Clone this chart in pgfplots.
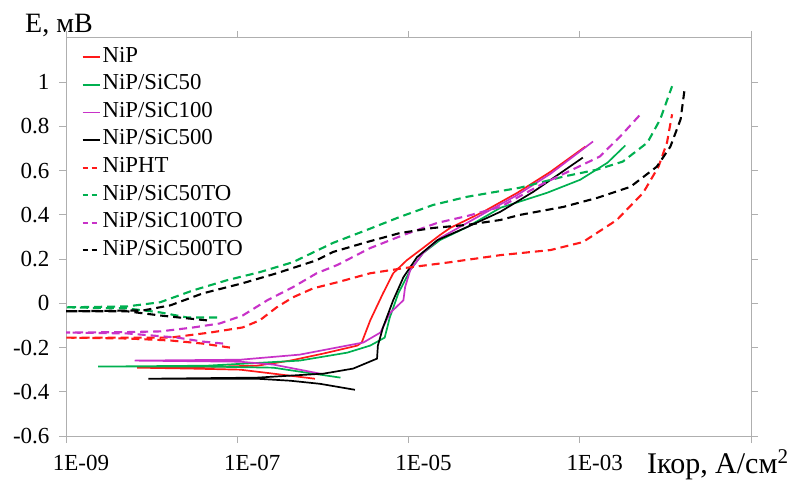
\documentclass[border=0pt]{standalone}
\usepackage{fontspec}
\setmainfont{Liberation Serif}
\usepackage{pgfplots}
\pgfplotsset{compat=1.18}
\definecolor{cred}{RGB}{255,25,25}
\definecolor{cgreen}{RGB}{0,176,80}
\definecolor{cmag}{RGB}{200,50,200}
\definecolor{axgray}{RGB}{175,175,175}
\begin{document}
\begin{tikzpicture}
\path[use as bounding box] (-66pt,-47pt) rectangle (726pt,436pt);
\begin{axis}[
  name=ax,
  at={(0,0)}, anchor=south west,
  scale only axis, width=685pt, height=398pt,
  xmin=-8.988, xmax=-0.932, ymin=-0.6, ymax=1.2,
  axis line style={draw=axgray, line width=1pt},
  tick align=outside, major tick length=7pt,
  tick style={draw=axgray, line width=1pt},
  xtick={-8.988,-6.974,-4.960,-2.946,-0.932},
  xticklabels={1E-09,1E-07,1E-05,1E-03,{}},
  ytick={-0.6,-0.4,-0.2,0,0.2,0.4,0.6,0.8,1},
  yticklabels={-0.6,-0.4,-0.2,0,0.2,0.4,0.6,0.8,1},
  ticklabel style={font=\fontsize{23}{27}\selectfont},
  xticklabel style={xshift=15pt, yshift=-9pt},
  yticklabel style={xshift=-6pt},
  legend style={draw=none, fill=none, at={(0.018,0.985)}, anchor=north west,
    font=\fontsize{22.8}{26}\selectfont, row sep=5.6pt,
    nodes={inner sep=1pt, text height=15pt, text depth=5pt},
    /tikz/every odd column/.append style={column sep=1pt}},
  legend cell align=left,
  legend image code/.code={\draw[#1] (0pt,0pt) -- (17pt,0pt);},
]
% NiP
\addplot[cred, line width=1.7pt] coordinates {
(-6.06,-0.341) (-6.55,-0.318) (-6.94,-0.300) (-7.53,-0.295) (-8.15,-0.291) (-7.53,-0.289) (-6.74,-0.282) (-6.35,-0.259) (-5.96,-0.227) (-5.56,-0.191) (-5.51,-0.177) (-5.41,-0.077) (-5.26,0.045) (-5.14,0.136) (-4.98,0.195) (-4.79,0.25) (-4.59,0.309) (-4.47,0.341) (-4.08,0.414) (-3.68,0.5) (-3.29,0.595) (-2.88,0.709)};
\addlegendentry{NiP}
% NiP/SiC50
\addplot[cgreen, line width=1.7pt] coordinates {
(-5.76,-0.336) (-6.15,-0.314) (-6.55,-0.291) (-7.33,-0.286) (-8.61,-0.286) (-7.33,-0.282) (-6.24,-0.259) (-5.68,-0.223) (-5.41,-0.191) (-5.24,-0.155) (-5.18,-0.064) (-5.08,0.045) (-4.94,0.15) (-4.79,0.227) (-4.59,0.286) (-4.27,0.345) (-3.88,0.432) (-3.33,0.5) (-2.94,0.559) (-2.62,0.636) (-2.41,0.714)};
\addlegendentry{NiP/SiC50}
% NiP/SiC100
\addplot[cmag, line width=1.7pt] coordinates {
(-6.0,-0.318) (-6.24,-0.3) (-6.55,-0.277) (-6.94,-0.264) (-8.18,-0.259) (-6.94,-0.255) (-6.24,-0.232) (-5.49,-0.177) (-5.29,-0.132) (-5.18,-0.045) (-5.02,0.014) (-5.0,0.073) (-4.94,0.15) (-4.79,0.227) (-4.59,0.295) (-4.08,0.405) (-3.68,0.49) (-3.29,0.586) (-2.79,0.732)};
\addlegendentry{NiP/SiC100}
% NiP/SiC500
\addplot[black, line width=1.7pt] coordinates {
(-5.59,-0.391) (-6.0,-0.364) (-6.35,-0.35) (-6.74,-0.341) (-8.02,-0.341) (-6.74,-0.336) (-5.96,-0.318) (-5.61,-0.295) (-5.33,-0.25) (-5.32,-0.191) (-5.26,-0.109) (-5.14,0.014) (-5.02,0.118) (-4.86,0.209) (-4.62,0.286) (-4.27,0.345) (-3.88,0.414) (-3.49,0.505) (-2.91,0.659)};
\addlegendentry{NiP/SiC500}
% NiPHT
\addplot[cred, line width=2.1pt, dash pattern=on 8pt off 5pt, legend image post style={dash pattern=on 5pt off 4pt}] coordinates {
(-7.06,-0.2) (-7.38,-0.182) (-7.76,-0.168) (-8.27,-0.159) (-9,-0.155) (-8.27,-0.155) (-7.76,-0.155) (-7.29,-0.132) (-6.91,-0.109) (-6.71,-0.077) (-6.51,-0.018) (-6.32,0.027) (-6.08,0.068) (-5.8,0.095) (-5.41,0.136) (-5.02,0.159) (-4.47,0.186) (-3.88,0.218) (-3.29,0.241) (-2.91,0.277) (-2.51,0.377) (-2.2,0.5) (-2.02,0.618) (-1.92,0.727) (-1.86,0.855)};
\addlegendentry{NiPHT}
% NiP/SiC50TO
\addplot[cgreen, line width=2.1pt, dash pattern=on 8pt off 5pt, legend image post style={dash pattern=on 5pt off 4pt}] coordinates {
(-7.21,-0.064) (-7.56,-0.064) (-7.88,-0.041) (-8.27,-0.023) (-9,-0.018) (-8.27,-0.014) (-7.88,0.005) (-7.49,0.059) (-7.09,0.105) (-6.71,0.141) (-6.32,0.186) (-5.85,0.273) (-5.45,0.332) (-5.06,0.391) (-4.67,0.445) (-4.27,0.482) (-3.92,0.505) (-3.65,0.523) (-3.14,0.573) (-2.74,0.605) (-2.44,0.641) (-2.15,0.727) (-2.0,0.832) (-1.86,0.982)};
\addlegendentry{NiP/SiC50TO}
% NiP/SiC100TO
\addplot[cmag, line width=2.1pt, dash pattern=on 8pt off 5pt, legend image post style={dash pattern=on 5pt off 4pt}] coordinates {
(-7.14,-0.182) (-7.38,-0.173) (-7.68,-0.155) (-8.27,-0.136) (-9,-0.132) (-8.27,-0.13) (-7.88,-0.127) (-7.49,-0.109) (-7.18,-0.091) (-6.91,-0.055) (-6.62,0.014) (-6.32,0.073) (-6.04,0.136) (-5.8,0.173) (-5.41,0.25) (-5.02,0.309) (-4.62,0.364) (-4.27,0.395) (-3.88,0.436) (-3.41,0.535) (-3.09,0.594) (-2.71,0.664) (-2.47,0.755) (-2.21,0.864)};
\addlegendentry{NiP/SiC100TO}
% NiP/SiC500TO
\addplot[black, line width=2.1pt, dash pattern=on 8pt off 5pt, legend image post style={dash pattern=on 5pt off 4pt}] coordinates {
(-7.33,-0.077) (-7.56,-0.068) (-7.88,-0.055) (-8.27,-0.036) (-9,-0.036) (-8.08,-0.032) (-7.76,-0.009) (-7.38,0.045) (-6.91,0.091) (-6.51,0.136) (-6.04,0.195) (-5.85,0.232) (-5.45,0.277) (-5.06,0.318) (-4.67,0.341) (-4.27,0.355) (-3.88,0.377) (-3.65,0.4) (-3.14,0.436) (-2.74,0.477) (-2.35,0.527) (-2.04,0.618) (-1.88,0.709) (-1.76,0.832) (-1.71,0.977)};
\addlegendentry{NiP/SiC500TO}
\end{axis}
\node[anchor=base west, font=\fontsize{28}{32}\selectfont, inner sep=0pt] at ([xshift=-41pt,yshift=5pt]ax.north west) {E, мВ};
\node[anchor=base west, font=\fontsize{30}{32}\selectfont, inner sep=0pt] at ([xshift=-104pt,yshift=-37pt]ax.south east) {Ікор, А/см\textsuperscript{2}};
\end{tikzpicture}
\end{document}
